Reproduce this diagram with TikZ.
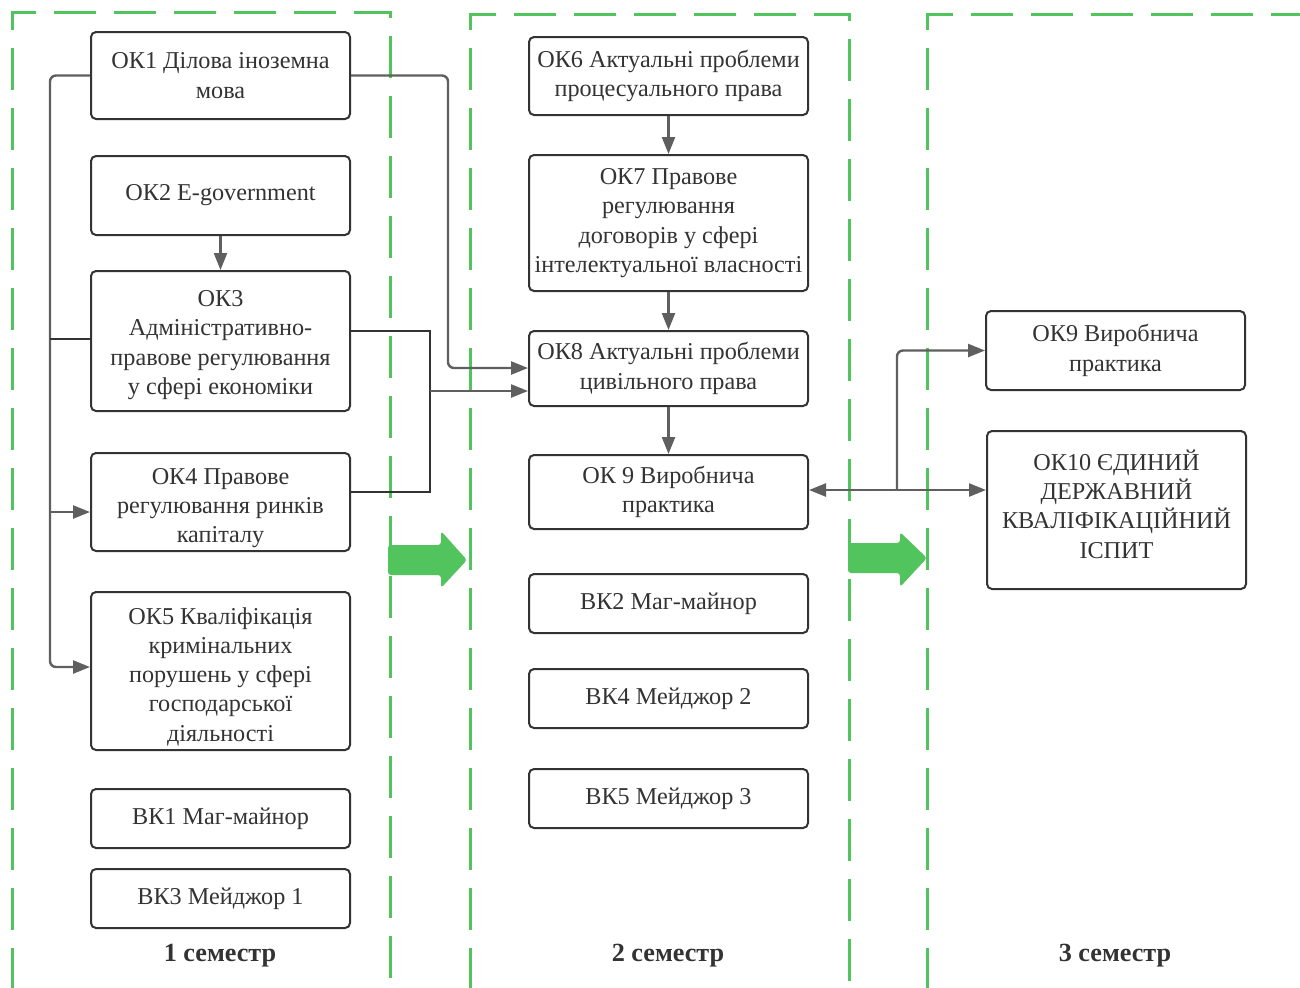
\documentclass[tikz,border=0pt]{standalone}
\usepackage{fontspec}
\setmainfont{Liberation Serif}
\usetikzlibrary{arrows.meta}
\definecolor{grn}{RGB}{82,196,94}
\definecolor{boxc}{RGB}{51,51,51}
\definecolor{connc}{RGB}{95,95,95}
\begin{document}
\begin{tikzpicture}[x=0.5pt,y=-0.5pt,
  txt/.style={align=center, text=boxc, font=\fontsize{12.1}{14.65}\selectfont, inner sep=0pt},
  box/.style={txt, draw=boxc, line width=1pt, rounded corners=2.5pt, fill=white,
    inner sep=1pt, minimum width=129.5pt},
  wbox/.style={box, minimum width=139.5pt},
  frame/.style={draw=grn, line width=1.5pt, dash pattern=on 21pt off 9pt},
  conn/.style={draw=connc, line width=1.2pt, rounded corners=3pt},
  dconn/.style={draw=boxc, line width=1.2pt},
  arr/.style={-{Triangle[length=8.5pt,width=6.5pt]}},
  darr/.style={{Triangle[length=8.5pt,width=6.5pt]}-{Triangle[length=8.5pt,width=6.5pt]}},
  sem/.style={font=\bfseries\fontsize{13.1}{15}\selectfont, text=boxc}]
\useasboundingbox (0,0) rectangle (1300,987);
\fill[white] (0,0) rectangle (1300,987);

% semester frames
\draw[frame] (12,990) -- (12,12) -- (390,12) -- (390,990);
\draw[frame] (470,990) -- (470,14) -- (849,14) -- (849,990);
\draw[frame] (927,990) -- (927,14) -- (1302,14);

% green block arrows
\fill[grn, rounded corners=1.5pt] (388,545) -- (441,545) -- (441,531) -- (467,560) -- (441,588) -- (441,575) -- (388,575) -- cycle;
\fill[grn, rounded corners=1.5pt] (848,543) -- (900,543) -- (900,532) -- (927,558) -- (900,587) -- (900,573) -- (848,573) -- cycle;

% semester 1
\node[box, minimum height=43.5pt] (ok1) at (220.5,75.5) {ОК1 Ділова іноземна\\мова};
\node[box, minimum height=39.5pt] (ok2) at (220.5,195.5) {ОК2 E-government};
\node[box, minimum height=70pt] (ok3) at (220.5,341) {};
\node[txt] (ok3t) at ([yshift=-2pt]ok3.center) {ОК3\\Адміністративно-\\правове регулювання\\у сфері економіки};
\node[box, minimum height=49pt] (ok4) at (220.5,502) {};
\node[txt] (ok4t) at ([yshift=-3pt]ok4.center) {ОК4 Правове\\регулювання ринків\\капіталу};
\node[box, minimum height=79pt] (ok5) at (220.5,671) {};
\node[txt] (ok5t) at ([yshift=-2.8pt]ok5.center) {ОК5 Кваліфікація\\кримінальних\\порушень у сфері\\господарської\\діяльності};
\node[box, minimum height=29.5pt] (bk1) at (220.5,818.5) {ВК1 Маг-майнор};
\node[box, minimum height=29.5pt] (bk3) at (220.5,898.5) {ВК3 Мейджор 1};
\node[sem] (s1) at (220,956) {1 семестр};

% semester 2
\node[wbox, minimum height=39pt] (ok6) at (668.5,76) {ОК6 Актуальні проблеми\\процесуального права};
\node[wbox, minimum height=68pt] (ok7) at (668.5,223) {ОК7 Правове\\регулювання\\договорів у сфері\\інтелектуальної власності};
\node[wbox, minimum height=37.5pt] (ok8) at (668.5,368.5) {ОК8 Актуальні проблеми\\цивільного права};
\node[wbox, minimum height=37pt] (ok9m) at (668.5,492) {ОК 9 Виробнича\\практика};
\node[wbox, minimum height=29.5pt] (bk2) at (668.5,603.5) {ВК2 Маг-майнор};
\node[wbox, minimum height=29.5pt] (bk4) at (668.5,698.5) {ВК4 Мейджор 2};
\node[wbox, minimum height=29.5pt] (bk5) at (668.5,798.5) {ВК5 Мейджор 3};
\node[sem] (s2) at (668,956) {2 семестр};

% semester 3
\node[box, minimum height=39.5pt] (ok9) at (1115.5,350.5) {ОК9 Виробнича\\практика};
\node[box, minimum height=79pt] (ok10) at (1116.5,510) {};
\node[txt] (ok10t) at ([yshift=3pt]ok10.center) {ОК10 ЄДИНИЙ\\ДЕРЖАВНИЙ\\КВАЛІФІКАЦІЙНИЙ\\ІСПИТ};
\node[sem] (s3) at (1115,956) {3 семестр};

% connectors
\draw[conn,arr] (ok1.west) -| (50,667) -- (ok5.west |- 50,667);
\draw[conn,arr] (50,512) -- (ok4.west |- 50,512);
\draw[dconn] (50,339) -- (ok3.west |- 50,339);
\draw[conn,arr] (ok1.east) -| (448,368) -- (ok8.west |- 448,368);
\draw[dconn] (ok3.east |- 0,331) -- (430,331) -- (430,492) -- (ok4.east |- 0,492);
\draw[conn,arr] (430,391) -- (ok8.west |- 0,391);
\draw[conn,arr] (ok2) -- (ok3);
\draw[conn,arr] (ok6) -- (ok7);
\draw[conn,arr] (ok7) -- (ok8);
\draw[conn,arr] (ok8) -- (ok9m);
\draw[conn,darr] (ok9m.east |- 0,490) -- (ok10.west |- 0,490);
\draw[conn,arr] (897,490) |- (ok9.west);
\end{tikzpicture}
\end{document}
